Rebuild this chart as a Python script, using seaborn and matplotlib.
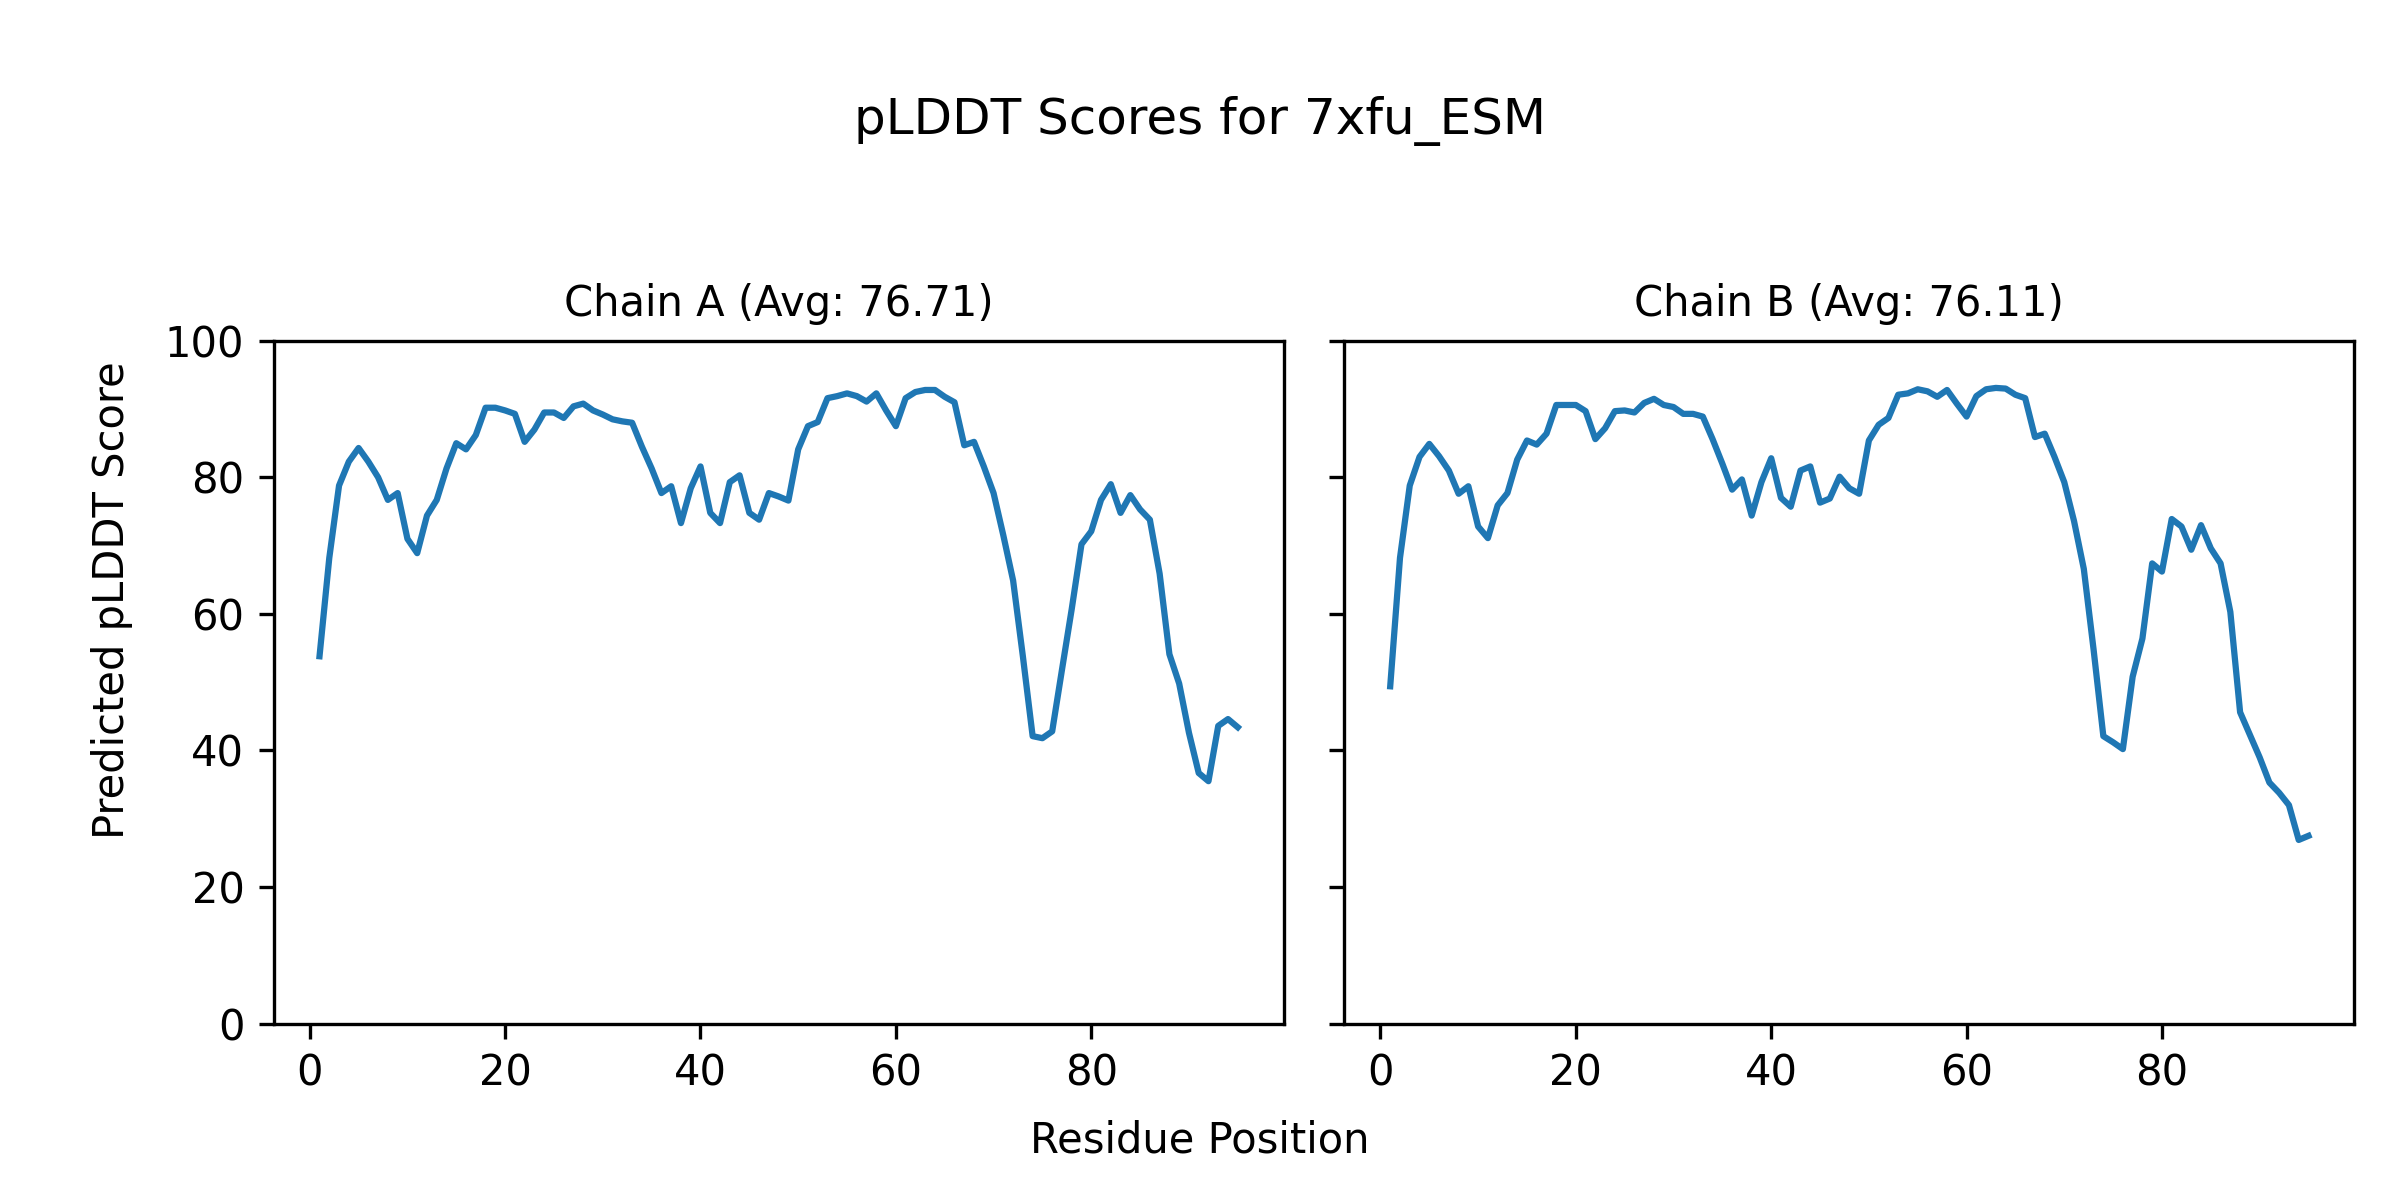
import pandas as pd
from matplotlib import pyplot as plt
import seaborn as sns

protein_name = "7xfu_ESM"

chain_a_scores = [53.8, 68.2, 78.8, 82.3, 84.3, 82.3, 80.0, 76.7, 77.7, 71.0,
                  68.9, 74.4, 76.7, 81.3, 85.0, 84.1, 86.2, 90.2, 90.2, 89.8,
                  89.3, 85.2, 87.0, 89.5, 89.5, 88.7, 90.4, 90.8, 89.8, 89.2,
                  88.5, 88.2, 88.0, 84.5, 81.3, 77.7, 78.7, 73.3, 78.4, 81.6,
                  74.8, 73.3, 79.3, 80.3, 74.8, 73.8, 77.7, 77.2, 76.6, 84.1,
                  87.5, 88.1, 91.6, 91.9, 92.3, 91.9, 91.1, 92.3, 89.8, 87.5,
                  91.6, 92.5, 92.8, 92.8, 91.8, 91.0, 84.7, 85.2, 81.6, 77.7,
                  71.5, 64.9, 53.8, 42.1, 41.8, 42.8, 51.8, 60.7, 70.2, 72.1,
                  76.7, 79.0, 74.8, 77.4, 75.3, 73.8, 65.9, 54.1, 49.8, 42.6,
                  36.7, 35.5, 43.6, 44.6, 43.4]

chain_b_scores = [49.4, 68.2, 78.8, 83.0, 84.9, 83.1, 81.0, 77.6, 78.7, 72.8,
                  71.1, 75.9, 77.7, 82.6, 85.4, 84.8, 86.4, 90.6, 90.6, 90.6,
                  89.7, 85.6, 87.2, 89.7, 89.8, 89.5, 90.9, 91.5, 90.6, 90.3,
                  89.3, 89.3, 88.9, 85.6, 82.0, 78.2, 79.7, 74.4, 79.3, 82.8,
                  77.0, 75.7, 81.0, 81.6, 76.3, 76.9, 80.1, 78.4, 77.6, 85.4,
                  87.7, 88.7, 92.1, 92.3, 92.9, 92.6, 91.8, 92.8, 90.8, 88.9,
                  91.9, 92.9, 93.1, 93.0, 92.1, 91.6, 85.9, 86.4, 83.0, 79.3,
                  73.6, 66.6, 54.8, 42.1, 41.2, 40.2, 50.8, 56.4, 67.4, 66.2,
                  73.9, 72.8, 69.4, 73.0, 69.6, 67.4, 60.3, 45.6, 42.3, 39.0,
                  35.3, 33.8, 32.0, 26.9, 27.5]

chain_names = ["A", "B"]
chain_avgs = [76.71, 76.11]

chains = {"A": chain_a_scores, "B": chain_b_scores}

fig, axes = plt.subplots(1, 2, figsize=(8, 4), dpi=300, sharey=True)
for ax, name, avg in zip(axes, chain_names, chain_avgs):
    scores = chains[name]
    df = pd.DataFrame({"Residue": range(1, len(scores) + 1), "pLDDT": scores})
    sns.lineplot(data=df, x="Residue", y="pLDDT", ax=ax, color="#1f77b4", linewidth=1.5)
    ax.set_title(f"Chain {name} (Avg: {avg:.2f})", fontsize=10)
    ax.set_xlabel("")
    ax.set_ylabel("")
    ax.set_ylim(0, 100)

fig.suptitle(f"pLDDT Scores for {protein_name}", fontsize=12, y=0.92)
fig.supxlabel("Residue Position", fontsize=10, y=0.032)
fig.supylabel("Predicted pLDDT Score", fontsize=10, x=0.038)
plt.subplots_adjust(left=0.114, right=0.981, bottom=0.147, top=0.716, wspace=0.06)
plt.savefig("out.png", dpi=300)
